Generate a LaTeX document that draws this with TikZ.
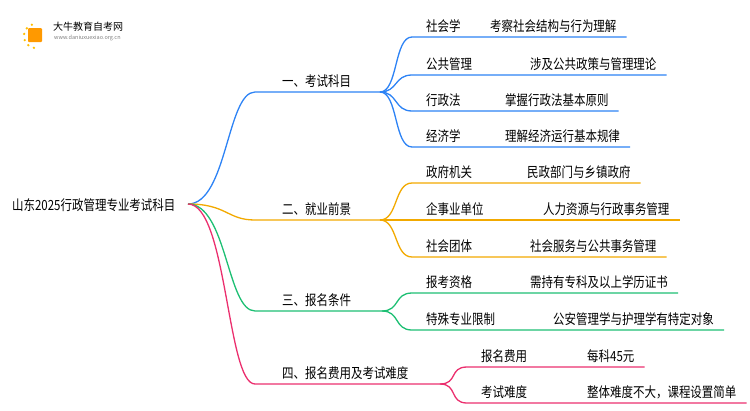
\documentclass[tikz,border=0pt]{standalone}
\usepackage{fontspec}
\setmainfont{Noto Sans CJK SC}
\usetikzlibrary{calc}
\begin{document}
\begin{tikzpicture}[x=1pt,y=-1pt,
 lbl/.style={anchor=south west,inner sep=0pt,yshift=4pt,xscale=0.82,font=\fontsize{14}{14}\selectfont},
 ln/.style={line width=1.3pt}]
\useasboundingbox (0,0) rectangle (750,410);
\definecolor{cb}{HTML}{2D83F5}\definecolor{co}{HTML}{F2A900}
\definecolor{cg}{HTML}{1DBF73}\definecolor{cp}{HTML}{EB2F6E}
% logo
\fill[orange!80!yellow,rounded corners=1pt] (28,28) rectangle (42,42);
\foreach \a in {100,130,...,250}{\fill[orange!50!yellow] (36,36)++(\a:12) circle (1.3);}
\node[anchor=west,inner sep=0,font=\fontsize{10}{10}\selectfont] (logo) at (53,27) {大牛教育自考网};
\node[anchor=west,inner sep=0,font=\fontsize{5.5}{6}\selectfont,gray] (url) at (54,38) {www.daniuxuexiao.org.cn};
\node[anchor=west,inner sep=0,xscale=0.82,font=\fontsize{14}{14}\selectfont] (root) at (12,205) {山东2025行政管理专业考试科目};
\coordinate (r) at (188,204);
\foreach \n/\c/\y/\xs/\xe/\t in {b1/cb/92/255/380/{一、考试科目},b2/co/220/255/380/{二、就业前景},b3/cg/311/255/382/{三、报名条件},b4/cp/384/255/440/{四、报名费用及考试难度}}{
  \coordinate (\n s) at (\xs,\y); \coordinate (\n e) at (\xe,\y);
  \draw[ln,\c] (r) .. controls (227,204) and (227,\y) .. (\n s) -- (\n e);
  \node[lbl] (\n t) at (282,\y) {\t};
}
\foreach \n/\b/\c/\y/\xs/\ta/\tb/\xb in {
 l1/b1/cb/37/412/社会学/考察社会结构与行为理解/490,
 l2/b1/cb/75/412/公共管理/涉及公共政策与管理理论/530,
 l3/b1/cb/111/412/行政法/掌握行政法基本原则/505,
 l4/b1/cb/147/412/经济学/理解经济运行基本规律/505,
 l5/b2/co/183/412/政府机关/民政部门与乡镇政府/527,
 l6/b2/co/220/412/企事业单位/人力资源与行政事务管理/543,
 l7/b2/co/257/412/社会团体/社会服务与公共事务管理/530,
 l8/b3/cg/293/412/报考资格/需持有专科及以上学历证书/530,
 l9/b3/cg/330/412/特殊专业限制/公安管理学与护理学有特定对象/553,
 l10/b4/cp/367/467/报名费用/每科45元/587,
 l11/b4/cp/403/467/考试难度/整体难度不大，课程设置简单/587}{
  \coordinate (\n s) at (\xs,\y);
  \node[lbl] (\n a) at ($(\n s)+(14,0)$) {\ta};
  \node[lbl] (\n b) at (\xb,\y) {\tb};
  \coordinate (\n e) at ($(\n b.east |- \n s)+(10,0)$);
  \draw[ln,\c] (\b e) .. controls ($(\b e)+(18,0)$) and ($(\n s)+(-18,0)$) .. (\n s) -- (\n e);
}
\end{tikzpicture}
\end{document}
